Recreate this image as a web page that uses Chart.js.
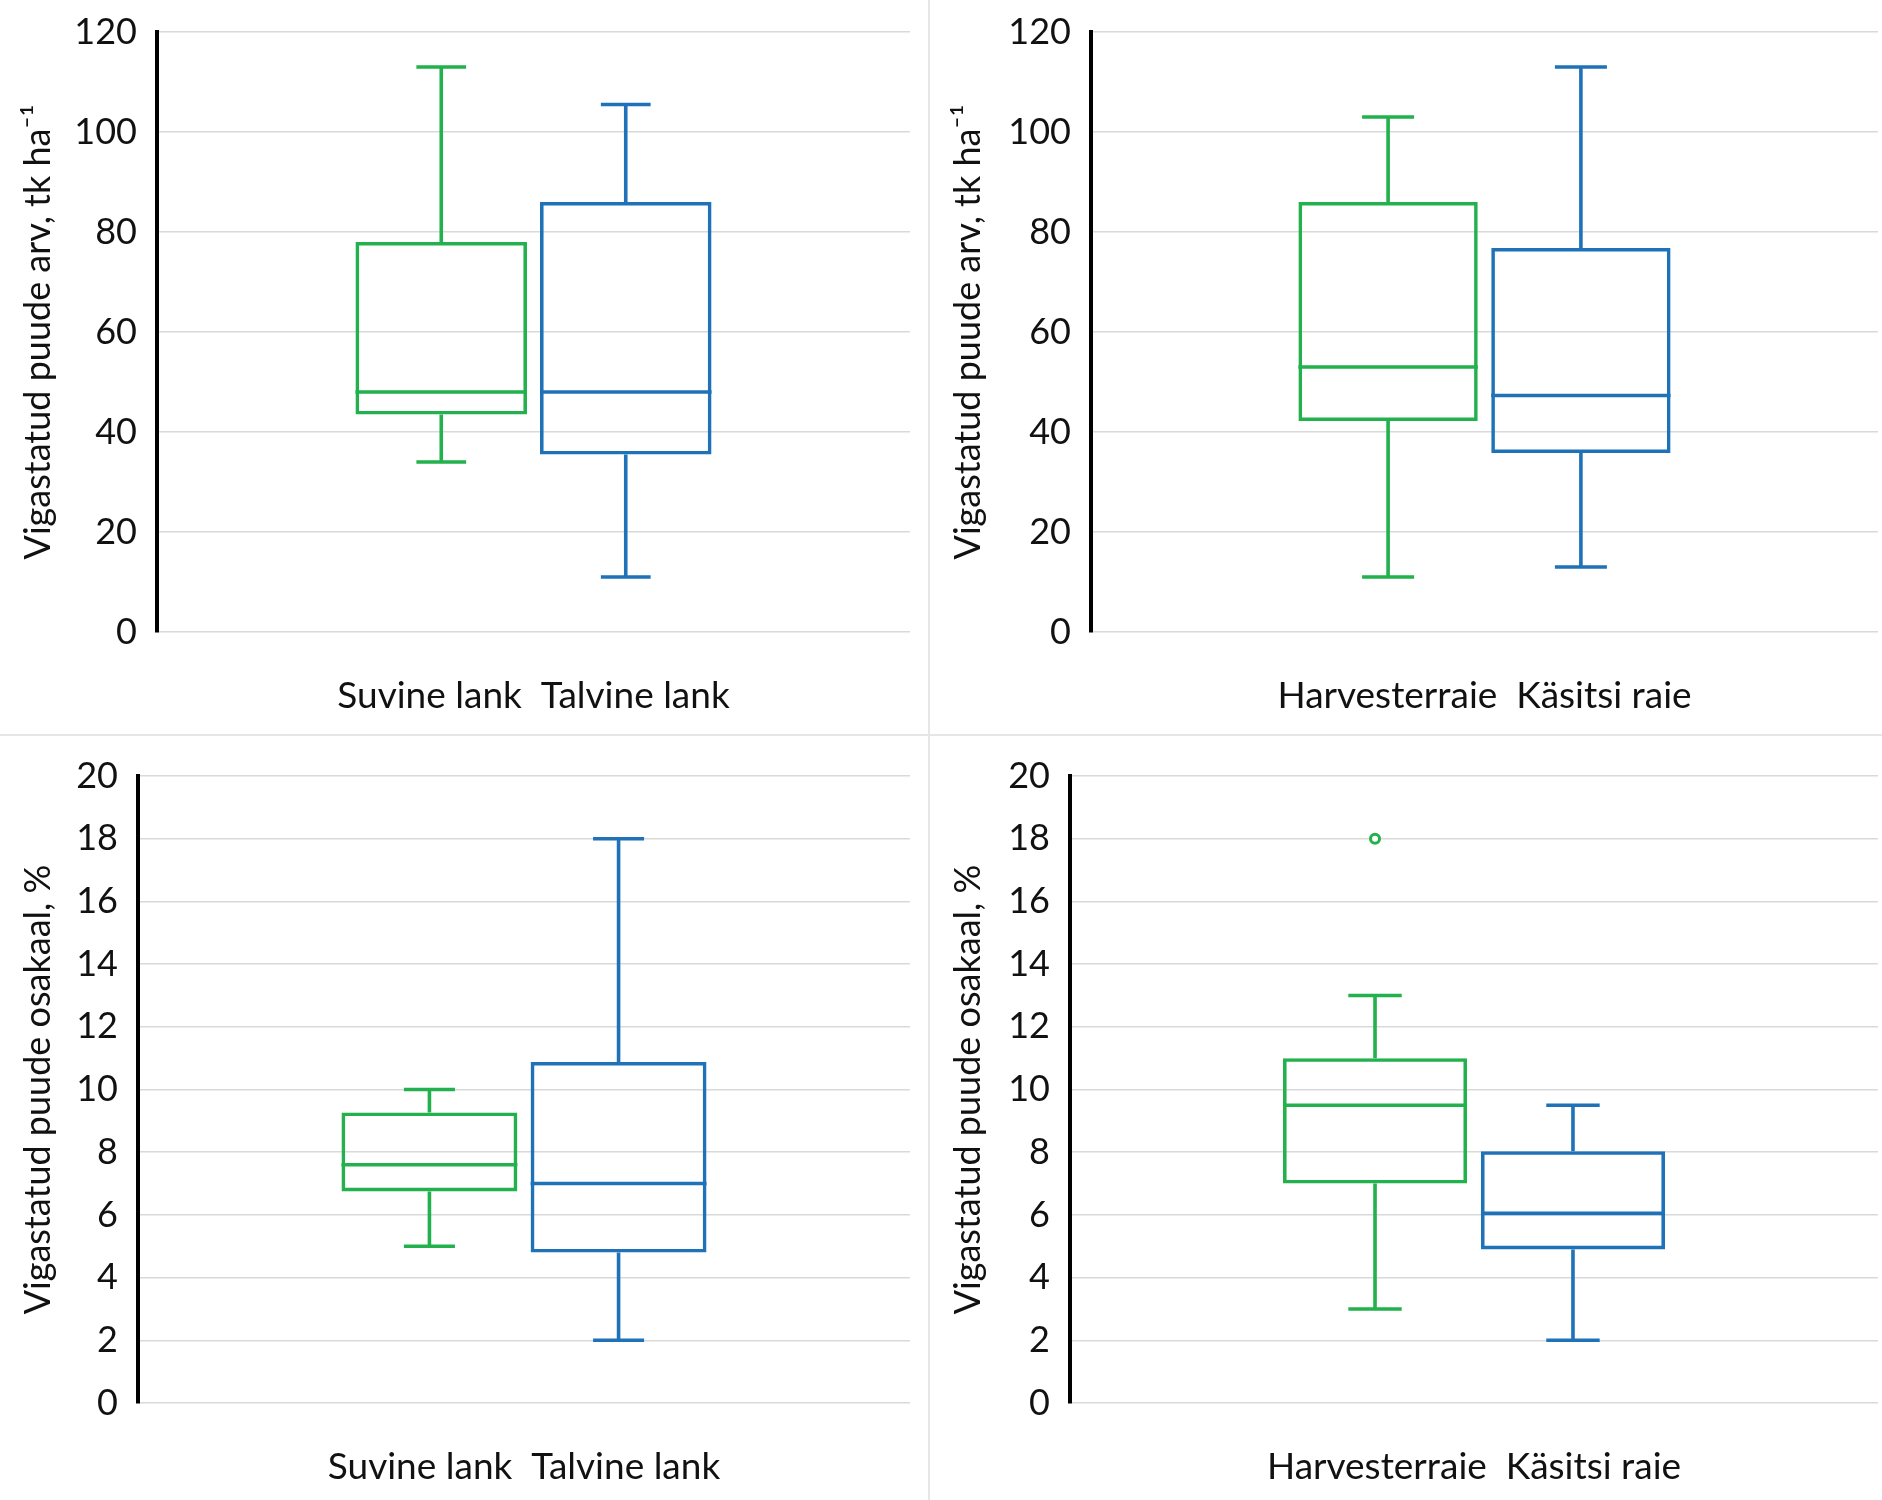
<!DOCTYPE html>
<html>
<head>
<meta charset="utf-8">
<script src="https://cdn.jsdelivr.net/npm/chart.js@4/dist/chart.umd.min.js"></script>
<style>
	body { margin: 0; background: #fff; }
	#page { position: relative; width: 1882px; height: 1500px; overflow: hidden; }
	canvas { position: absolute; }
	.vline { position: absolute; left: 928px; top: 0; width: 2px; height: 1500px; background: #e6e6e6; }
	.hline { position: absolute; left: 0; top: 734px; width: 1882px; height: 2px; background: #e6e6e6; }
</style>
</head>
<body>
<div id="page">
	<canvas id="countSeason" width="928" height="734" style="left:0;top:0"></canvas>
	<canvas id="countCut" width="952" height="734" style="left:930px;top:0"></canvas>
	<canvas id="shareSeason" width="928" height="764" style="left:0;top:736px"></canvas>
	<canvas id="shareCut" width="952" height="764" style="left:930px;top:736px"></canvas>
	<div class="vline"></div>
	<div class="hline"></div>
</div>
<script>
"use strict";
/* globals Chart */

const seasonLabels = ['Suvine lank', 'Talvine lank'];
const cutLabels = ['Harvesterraie', 'Käsitsi raie'];
const seriesColors = ['#22b14c', '#1f72b8'];

// damaged trees per hectare
const countSeasonMin = [34, 11];
const countSeasonQ1 = [43.5, 35.5];
const countSeasonMedian = [48, 48];
const countSeasonQ3 = [78, 86];
const countSeasonMax = [113, 105.5];

const countCutMin = [11, 13];
const countCutQ1 = [42.2, 35.8];
const countCutMedian = [53, 47.3];
const countCutQ3 = [86, 76.8];
const countCutMax = [103, 113];

// share of damaged trees, %
const shareSeasonMin = [5, 2];
const shareSeasonQ1 = [6.75, 4.8];
const shareSeasonMedian = [7.6, 7];
const shareSeasonQ3 = [9.27, 10.88];
const shareSeasonMax = [10, 18];

const shareCutMin = [3, 2];
const shareCutQ1 = [7, 4.9];
const shareCutMedian = [9.5, 6.05];
const shareCutQ3 = [11, 8.03];
const shareCutMax = [13, 9.5];
const shareCutOutliers = [[18], []];

const countTicks = [0, 120, 20];
const shareTicks = [0, 20, 2];

const fontFamily = 'Lato, "Open Sans", sans-serif';
const textColor = '#111';

// whiskers, medians and outliers on top of the floating bars
const boxPlotPlugin = {
	id: 'boxWhiskers',
	afterDatasetsDraw: function(chart) {
		const ctx = chart.ctx;
		const y = chart.scales.y;
		chart.data.datasets.forEach(function(ds, i) {
			const bar = chart.getDatasetMeta(i).data[0];
			const s = ds.stats;
			const cap = bar.width * 0.145;
			ctx.save();
			ctx.strokeStyle = ds.borderColor;
			ctx.lineWidth = 3.6;
			ctx.beginPath();
			// upper whisker
			ctx.moveTo(bar.x, y.getPixelForValue(s.q3));
			ctx.lineTo(bar.x, y.getPixelForValue(s.max));
			ctx.moveTo(bar.x - cap, y.getPixelForValue(s.max));
			ctx.lineTo(bar.x + cap, y.getPixelForValue(s.max));
			// lower whisker
			ctx.moveTo(bar.x, y.getPixelForValue(s.q1));
			ctx.lineTo(bar.x, y.getPixelForValue(s.min));
			ctx.moveTo(bar.x - cap, y.getPixelForValue(s.min));
			ctx.lineTo(bar.x + cap, y.getPixelForValue(s.min));
			// median
			ctx.moveTo(bar.x - bar.width / 2, y.getPixelForValue(s.median));
			ctx.lineTo(bar.x + bar.width / 2, y.getPixelForValue(s.median));
			ctx.stroke();
			ctx.lineWidth = 3;
			ctx.fillStyle = '#fff';
			s.outliers.forEach(function(v) {
				ctx.beginPath();
				ctx.arc(bar.x, y.getPixelForValue(v), 4.5, 0, Math.PI * 2);
				ctx.fill();
				ctx.stroke();
			});
			ctx.restore();
		});
	}
};

function boxChart(canvasId, groups, mins, q1s, medians, q3s, maxs, outliers, ticks, yTitle, plotBox) {
	const canvas = document.getElementById(canvasId);
	const datasets = groups.map(function(name, i) {
		return {
			label: name,
			data: [[q1s[i], q3s[i]]],
			backgroundColor: 'rgba(0,0,0,0)',
			borderColor: seriesColors[i],
			borderWidth: 3.6,
			borderSkipped: false,
			categoryPercentage: 0.49,
			barPercentage: 0.93,
			stats: {
				min: mins[i],
				q1: q1s[i],
				median: medians[i],
				q3: q3s[i],
				max: maxs[i],
				outliers: outliers ? outliers[i] : []
			}
		};
	});

	return new Chart(canvas, {
		type: 'bar',
		data: {
			labels: [groups.join('  ')],
			datasets: datasets
		},
		plugins: [boxPlotPlugin],
		options: {
			responsive: false,
			animation: false,
			devicePixelRatio: 1,
			layout: {
				padding: {
					left: 0,
					top: plotBox.top,
					right: canvas.width - plotBox.right,
					bottom: 0
				}
			},
			scales: {
				x: {
					grid: { display: false, drawTicks: false },
					border: { display: false },
					ticks: {
						padding: 42,
						color: textColor,
						font: { family: fontFamily, size: 37 }
					},
					afterFit: function(scale) {
						scale.height = canvas.height - plotBox.bottom;
						scale.paddingLeft = 0;
						scale.paddingRight = 0;
					}
				},
				y: {
					min: ticks[0],
					max: ticks[1],
					ticks: {
						stepSize: ticks[2],
						padding: 20,
						color: textColor,
						font: { family: fontFamily, size: 36 }
					},
					grid: {
						color: '#d9d9d9',
						lineWidth: 1.5,
						drawTicks: false
					},
					border: { color: '#000', width: 4 },
					title: {
						display: true,
						text: yTitle,
						color: textColor,
						padding: { top: 17, bottom: 0 },
						font: { family: fontFamily, size: 36 }
					},
					afterFit: function(scale) {
						scale.width = plotBox.left;
						scale.paddingTop = 0;
						scale.paddingBottom = 0;
					}
				}
			},
			plugins: {
				legend: { display: false },
				tooltip: { enabled: false }
			}
		}
	});
}

boxChart('countSeason', seasonLabels, countSeasonMin, countSeasonQ1, countSeasonMedian, countSeasonQ3, countSeasonMax,
	null, countTicks, 'Vigastatud puude arv, tk ha⁻¹', { left: 157, top: 32, right: 910, bottom: 632 });
boxChart('countCut', cutLabels, countCutMin, countCutQ1, countCutMedian, countCutQ3, countCutMax,
	null, countTicks, 'Vigastatud puude arv, tk ha⁻¹', { left: 161, top: 32, right: 948, bottom: 632 });
boxChart('shareSeason', seasonLabels, shareSeasonMin, shareSeasonQ1, shareSeasonMedian, shareSeasonQ3, shareSeasonMax,
	null, shareTicks, 'Vigastatud puude osakaal, %', { left: 138, top: 40, right: 910, bottom: 667 });
boxChart('shareCut', cutLabels, shareCutMin, shareCutQ1, shareCutMedian, shareCutQ3, shareCutMax,
	shareCutOutliers, shareTicks, 'Vigastatud puude osakaal, %', { left: 140, top: 40, right: 948, bottom: 667 });
</script>
</body>
</html>
